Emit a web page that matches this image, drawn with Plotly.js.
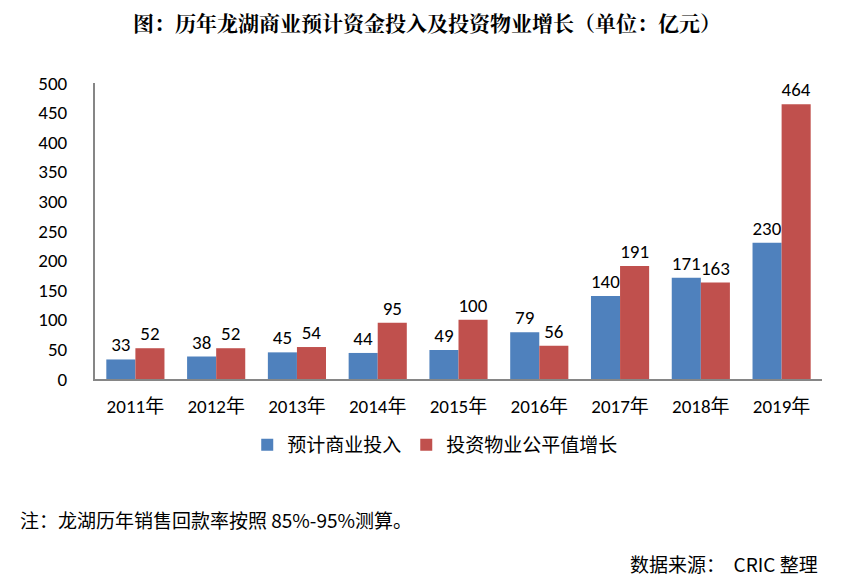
<!DOCTYPE html>
<html><head><meta charset="utf-8">
<script src="https://cdn.plot.ly/plotly-3.0.1.min.js"></script>
<style>body{margin:0;background:#fff}#c{width:842px;height:588px}</style>
</head><body><div id="c"></div>
<script>
const categories = ["2011年","2012年","2013年","2014年","2015年","2016年","2017年","2018年","2019年"];
const seriesNames = ["预计商业投入","投资物业公平值增长"];
const investValues = [33,38,45,44,49,79,140,171,230];
const fairValueGrowth = [52,52,54,95,100,56,191,163,464];
const yTicks = [0,50,100,150,200,250,300,350,400,450,500];

const numFont = {family:"Carlito, Lato, 'Open Sans', sans-serif", size:19, color:"#000"};
const traces = [
  {type:"bar", name:seriesNames[0], x:categories, y:investValues, text:investValues.map(String),
   textposition:"outside", textfont:numFont, cliponaxis:false, marker:{color:"#4F81BD"}},
  {type:"bar", name:seriesNames[1], x:categories, y:fairValueGrowth, text:fairValueGrowth.map(String),
   textposition:"outside", textfont:numFont, cliponaxis:false, marker:{color:"#C0504D"}}
];
const layout = {
  width:842, height:588,
  margin:{l:95, r:20, t:83, b:209},
  paper_bgcolor:"#fff", plot_bgcolor:"#fff",
  barmode:"group", bargap:0.28, bargroupgap:0,
  font:{family:"'Noto Sans CJK SC', sans-serif", color:"#000"},
  xaxis:{showline:true, linecolor:"#868686", linewidth:2, ticks:"", showgrid:false,
         tickfont:{family:"Carlito, Lato, 'Noto Sans CJK SC', sans-serif", size:19, color:"#000"}, ticklabelstandoff:9},
  yaxis:{range:[0,500], tickvals:yTicks, showline:true, linecolor:"#868686", linewidth:2, ticks:"",
         showgrid:false, zeroline:false, tickfont:numFont, ticklabelstandoff:22},
  showlegend:true,
  legend:{orientation:"h", x:0.468, xanchor:"center", y:-0.223, yanchor:"middle",
          font:{family:"'Noto Sans CJK SC', sans-serif", size:19, color:"#000"}, itemwidth:20, traceorder:"normal"},
  annotations:[
    {text:"<b>图：历年龙湖商业预计资金投入及投资物业增长（单位：亿元）</b>", xref:"paper", yref:"paper",
     x:0.457, y:1.206, xanchor:"center", yanchor:"middle", showarrow:false,
     font:{family:"'Noto Serif CJK SC','Noto Sans CJK SC', serif", size:21, color:"#000"}},
    {text:"注：龙湖历年销售回款率按照 85%-95%测算。", xref:"paper", yref:"paper",
     x:-0.106, y:-0.476, xanchor:"left", yanchor:"middle", showarrow:false,
     font:{family:"'Noto Sans CJK SC', sans-serif", size:19, color:"#000"}},
    {text:"数据来源：  CRIC 整理", xref:"paper", yref:"paper",
     x:0.997, y:-0.622, xanchor:"right", yanchor:"middle", showarrow:false,
     font:{family:"'Noto Sans CJK SC', sans-serif", size:19, color:"#000"}}
  ]
};
Plotly.newPlot("c", traces, layout, {staticPlot:true});
</script></body></html>
